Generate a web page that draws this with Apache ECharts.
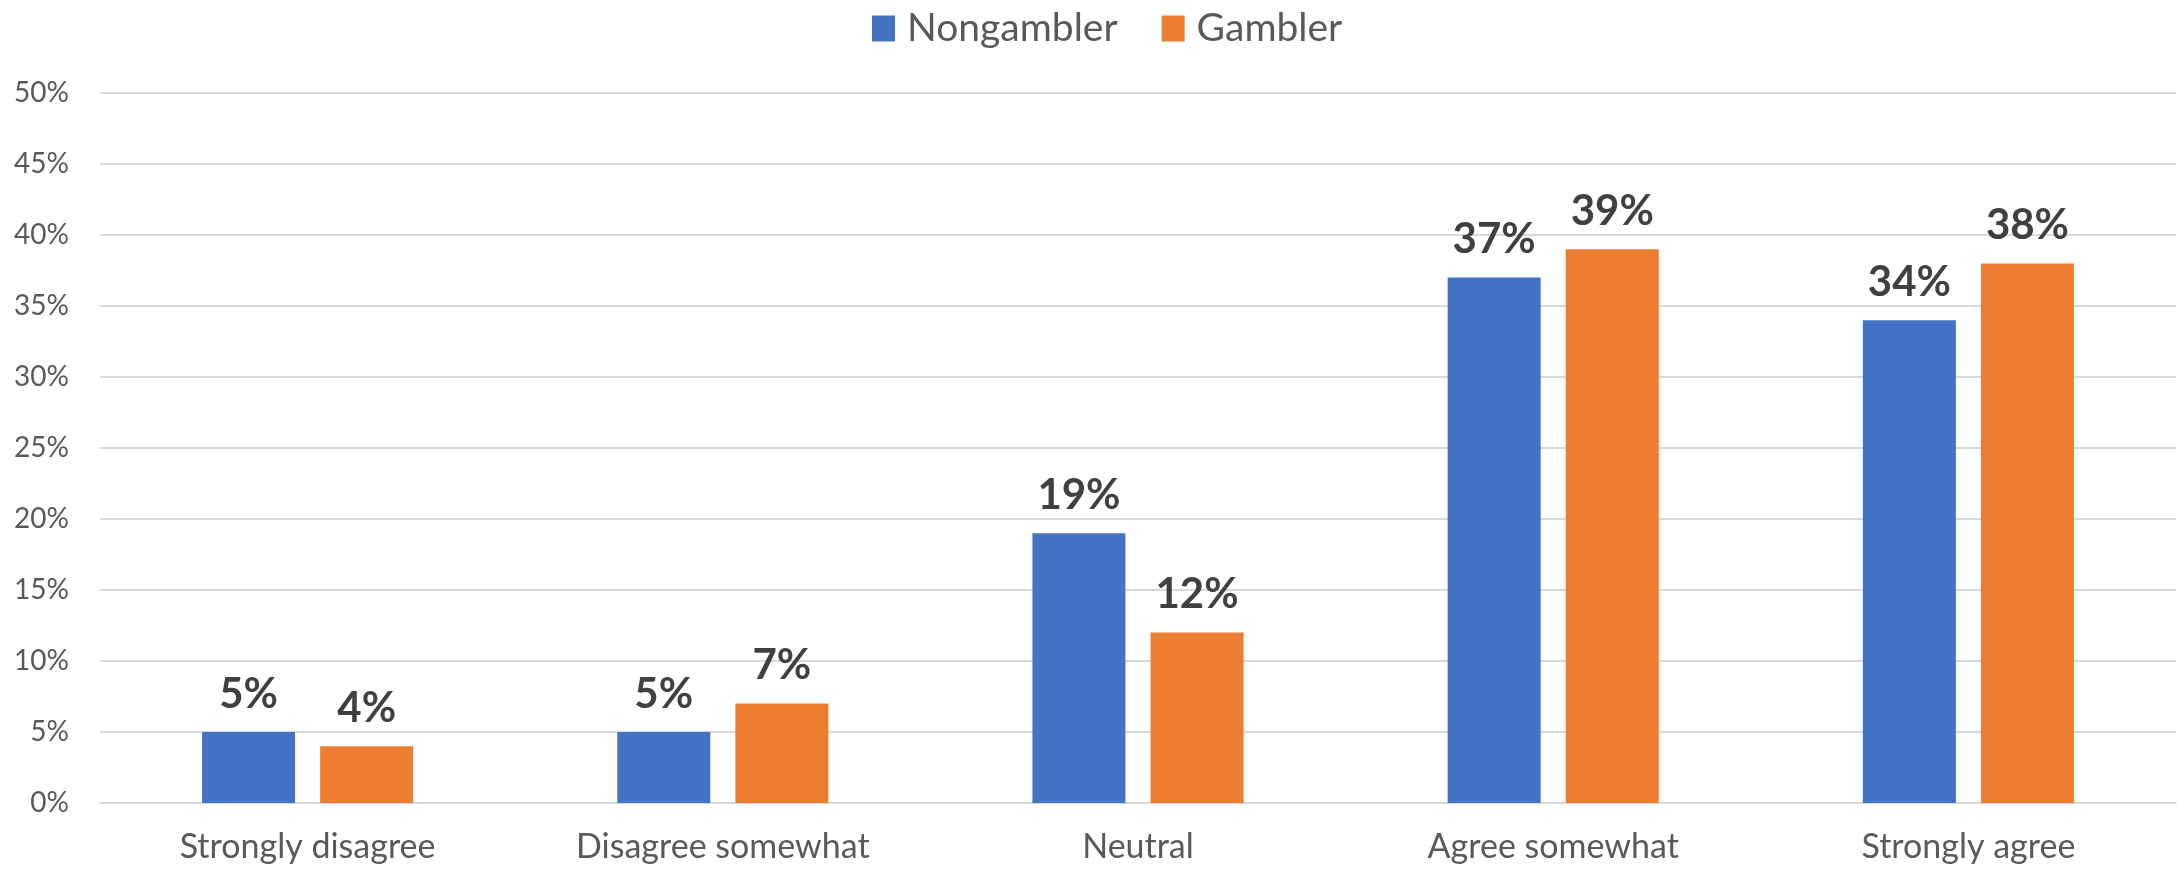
<!DOCTYPE html>
<html>
<head>
<meta charset="utf-8">
<title>Nongambler vs Gambler</title>
<script src="https://cdn.jsdelivr.net/npm/echarts@6/dist/echarts.min.js"></script>
<style>
  html, body { margin: 0; padding: 0; background: #ffffff; }
  #chart { width: 2178px; height: 870px; }
</style>
</head>
<body>
<div id="chart"></div>
<script>
// Response categories along the x axis
const categories = ['Strongly disagree', 'Disagree somewhat', 'Neutral', 'Agree somewhat', 'Strongly agree'];

// Share of respondents (%) in each group
const nongambler = [5, 5, 19, 37, 34];
const gambler = [4, 7, 12, 39, 38];

// Value axis range (%)
const yMin = 0;
const yMax = 50;
const yStep = 5;

const FONT = 'Lato, "Open Sans", sans-serif';

const chart = echarts.init(document.getElementById('chart'), null, { renderer: 'canvas' });

const labelStyle = {
  show: true,
  position: 'top',
  distance: 17,
  formatter: '{c}%',
  fontFamily: FONT,
  fontWeight: 'bold',
  fontSize: 42,
  color: '#404040'
};

chart.setOption({
  animation: false,
  backgroundColor: '#ffffff',
  legend: {
    top: 9,
    left: 872,
    padding: 0,
    itemWidth: 23,
    itemHeight: 26,
    itemGap: 44,
    icon: 'rect',
    textStyle: { fontFamily: FONT, fontSize: 39, color: '#595959', padding: [0, 0, 0, 7] },
    data: ['Nongambler', 'Gambler']
  },
  grid: { left: 100, right: 2, top: 93, bottom: 67, containLabel: false },
  xAxis: {
    type: 'category',
    data: categories,
    axisTick: { show: false },
    axisLine: { show: true, lineStyle: { color: '#D9D9D9', width: 2 } },
    axisLabel: { fontFamily: FONT, fontSize: 34, color: '#595959', margin: 27 }
  },
  yAxis: {
    type: 'value',
    min: yMin,
    max: yMax,
    interval: yStep,
    axisLine: { show: false },
    axisTick: { show: false },
    splitLine: { show: true, lineStyle: { color: '#D9D9D9', width: 2 } },
    axisLabel: { formatter: '{value}%', fontFamily: FONT, fontSize: 28, color: '#595959', margin: 31 }
  },
  series: [
    {
      name: 'Nongambler',
      type: 'bar',
      data: nongambler,
      barWidth: 93,
      barGap: '27%',
      itemStyle: { color: '#4472C4' },
      label: labelStyle
    },
    {
      name: 'Gambler',
      type: 'bar',
      data: gambler,
      barWidth: 93,
      barGap: '27%',
      itemStyle: { color: '#ED7D31' },
      label: labelStyle
    }
  ]
});
</script>
</body>
</html>
